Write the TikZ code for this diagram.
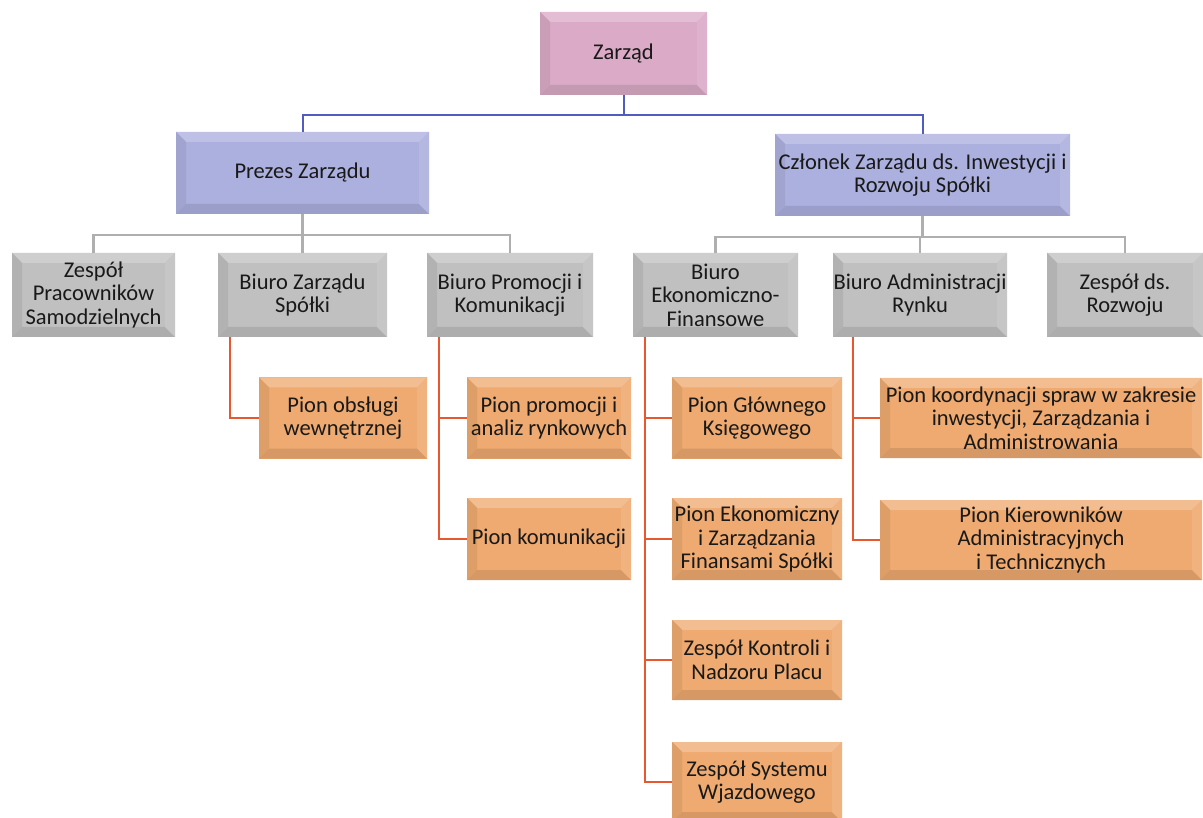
\documentclass[tikz,border=0pt]{standalone}
\usepackage{fontspec}
\setmainfont{Carlito}
\definecolor{cpink}{RGB}{218,170,198}
\definecolor{cblue}{RGB}{172,176,222}
\definecolor{cgray}{RGB}{192,192,192}
\definecolor{corange}{RGB}{238,170,112}
\definecolor{lblue}{RGB}{80,92,190}
\definecolor{lgray}{RGB}{175,175,175}
\definecolor{lorange}{RGB}{232,88,48}
\definecolor{ctext}{RGB}{25,25,25}
\tikzset{
  bevelbox/.style={fill=#1, inner sep=0pt, align=center, text=ctext,
    font=\fontsize{22.5}{23.5}\selectfont,
    path picture={
      \fill[#1!78!white] (path picture bounding box.north west) -- (path picture bounding box.north east)
        -- ([shift={(-10pt,-10pt)}]path picture bounding box.north east) -- ([shift={(10pt,-10pt)}]path picture bounding box.north west) -- cycle;
      \fill[#1!93!black] (path picture bounding box.north west) -- (path picture bounding box.south west)
        -- ([shift={(10pt,10pt)}]path picture bounding box.south west) -- ([shift={(10pt,-10pt)}]path picture bounding box.north west) -- cycle;
      \fill[#1!90!black] (path picture bounding box.south west) -- (path picture bounding box.south east)
        -- ([shift={(-10pt,10pt)}]path picture bounding box.south east) -- ([shift={(10pt,10pt)}]path picture bounding box.south west) -- cycle;
      \fill[#1!90!white] (path picture bounding box.north east) -- (path picture bounding box.south east)
        -- ([shift={(-10pt,10pt)}]path picture bounding box.south east) -- ([shift={(-10pt,-10pt)}]path picture bounding box.north east) -- cycle;
    }},
  pinkbox/.style={bevelbox=cpink},
  bluebox/.style={bevelbox=cblue},
  graybox/.style={bevelbox=cgray},
  orangebox/.style={bevelbox=corange},
  blueline/.style={draw=lblue, line width=2pt},
  grayline/.style={draw=lgray, line width=2.2pt},
  orangeline/.style={draw=lorange, line width=2pt},
}
\begin{document}
\begin{tikzpicture}[x=1pt,y=-1pt]
\fill[white] (0,0) rectangle (1203,818);
\clip (0,0) rectangle (1203,818);
% level 0
\node[pinkbox, minimum width=167pt, minimum height=83pt] (zarzad) at (623.5,53.5) {Zarząd};
% level 1
\node[bluebox, minimum width=253pt, minimum height=82pt] (prezes) at (302.5,173) {Prezes Zarządu};
\node[bluebox, minimum width=295pt, minimum height=82pt] (czlonek) at (922.5,175) {Członek Zarządu ds. Inwestycji i\\Rozwoju Spółki};
% level 2
\node[graybox, minimum width=163pt, minimum height=84pt] (zps) at (93.5,295) {Zespół\\Pracowników\\Samodzielnych};
\node[graybox, minimum width=169pt, minimum height=84pt] (bzs) at (302.5,295) {Biuro Zarządu\\Spółki};
\node[graybox, minimum width=166pt, minimum height=84pt] (bpk) at (510,295) {Biuro Promocji i\\Komunikacji};
\node[graybox, minimum width=165pt, minimum height=84pt] (bef) at (715.5,295) {Biuro\\Ekonomiczno-\\Finansowe};
\node[graybox, minimum width=174pt, minimum height=84pt] (bar) at (920,295) {Biuro Administracji\\Rynku};
\node[graybox, minimum width=156pt, minimum height=84pt] (zdr) at (1125,295) {Zespół ds.\\Rozwoju};
% level 3
\node[orangebox, minimum width=168pt, minimum height=81pt] (pow) at (343,418) {Pion obsługi\\wewnętrznej};
\node[orangebox, minimum width=164pt, minimum height=81pt] (ppa) at (549,418) {Pion promocji i\\analiz rynkowych};
\node[orangebox, minimum width=164pt, minimum height=82pt] (pkom) at (549,539) {Pion komunikacji};
\node[orangebox, minimum width=170pt, minimum height=81pt] (pgk) at (757,418) {Pion Głównego\\Księgowego};
\node[orangebox, minimum width=170pt, minimum height=82pt] (pez) at (757,539) {Pion Ekonomiczny\\i Zarządzania\\Finansami Spółki};
\node[orangebox, minimum width=170pt, minimum height=80pt] (zkn) at (757,660) {Zespół Kontroli i\\Nadzoru Placu};
\node[orangebox, minimum width=170pt, minimum height=80pt] (zsw) at (757,782) {Zespół Systemu\\Wjazdowego};
\node[orangebox, minimum width=322pt, minimum height=80pt] (pks) at (1041,418) {Pion koordynacji spraw w zakresie\\inwestycji, Zarządzania i\\Administrowania};
\node[orangebox, minimum width=322pt, minimum height=80pt] (pka) at (1041,540) {Pion Kierowników\\Administracyjnych\\i Technicznych};
% connectors level 0-1
\draw[blueline] (zarzad.south) -- ++(0,20) coordinate (jb) -| (prezes.north);
\draw[blueline] (jb) -| (czlonek.north);
% level 1-2
\draw[grayline] (prezes.south) -- ++(0,21) coordinate (jg1) -| (zps.north);
\draw[grayline] (jg1) -| (bzs.north);
\draw[grayline] (jg1) -| (bpk.north);
\draw[grayline] (czlonek.south) -- ++(0,21) coordinate (jg2) -| (bef.north);
\draw[grayline] (jg2) -| (bar.north);
\draw[grayline] (jg2) -| (zdr.north);
% level 2-3
\coordinate (ob1) at ([xshift=12pt]bzs.south west);
\draw[orangeline] (ob1) |- (pow.west);
\coordinate (ob2) at ([xshift=12pt]bpk.south west);
\draw[orangeline] (ob2) |- (pkom.west);
\draw[orangeline] (ob2 |- ppa.west) -- (ppa.west);
\coordinate (ob3) at ([xshift=12pt]bef.south west);
\draw[orangeline] (ob3) |- (zsw.west);
\draw[orangeline] (ob3 |- pgk.west) -- (pgk.west);
\draw[orangeline] (ob3 |- pez.west) -- (pez.west);
\draw[orangeline] (ob3 |- zkn.west) -- (zkn.west);
\coordinate (ob4) at ([xshift=20pt]bar.south west);
\draw[orangeline] (ob4) |- (pka.west);
\draw[orangeline] (ob4 |- pks.west) -- (pks.west);
\end{tikzpicture}
\end{document}
